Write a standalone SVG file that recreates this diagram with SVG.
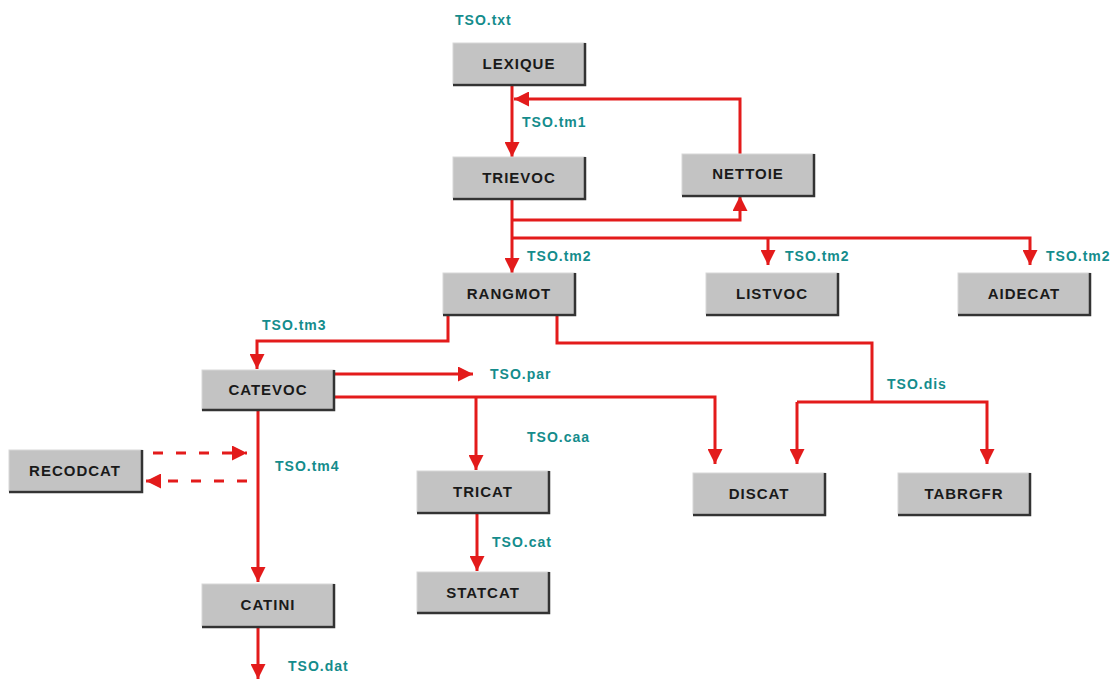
<svg xmlns="http://www.w3.org/2000/svg" width="1118" height="679" viewBox="0 0 1118 679">
<style>
.box{fill:#c3c3c3;stroke:#d8d8d8;stroke-width:1}
.sh{fill:none;stroke:#333;stroke-width:2.5}
.nt{font-family:"Liberation Sans",Arial,sans-serif;font-weight:bold;font-size:15px;fill:#1a1a1a;text-anchor:middle;letter-spacing:1px}
.lb{font-family:"Liberation Sans",Arial,sans-serif;font-weight:bold;font-size:14px;fill:#148c8c;letter-spacing:1px}
.c{fill:none;stroke:#e31b1b;stroke-width:3}
.d{fill:none;stroke:#e31b1b;stroke-width:3;stroke-dasharray:10,13}
</style>
<defs>
<marker id="a" viewBox="0 0 10 10" refX="10" refY="5" markerWidth="5" markerHeight="5" orient="auto" markerUnits="strokeWidth">
<path d="M0,0 L10,5 L0,10 Z" fill="#e31b1b"/>
</marker>
</defs>
<rect width="1118" height="679" fill="#fff"/>
<g id="connectors">
<path class="c" d="M512,85 V157" marker-end="url(#a)"/>
<path class="c" d="M740,154 V99 H514" marker-end="url(#a)"/>
<path class="c" d="M512,199 V273" marker-end="url(#a)"/>
<path class="c" d="M512,220 H740 V196" marker-end="url(#a)"/>
<path class="c" d="M512,238 H1030 V265" marker-end="url(#a)"/>
<path class="c" d="M768,238 V265" marker-end="url(#a)"/>
<path class="c" d="M448,315 V341 H257 V369" marker-end="url(#a)"/>
<path class="c" d="M557,315 V343 H872 V402"/>
<path class="c" d="M797,402 H987 V464" marker-end="url(#a)"/>
<path class="c" d="M797,402 V464" marker-end="url(#a)"/>
<path class="c" d="M335,374 H473" marker-end="url(#a)"/>
<path class="c" d="M335,397 H715 V464" marker-end="url(#a)"/>
<path class="c" d="M476,397 V470" marker-end="url(#a)"/>
<path class="c" d="M477,513 V571" marker-end="url(#a)"/>
<path class="c" d="M258,410 V582" marker-end="url(#a)"/>
<path class="c" d="M258,627 V679" marker-end="url(#a)"/>
<path class="d" d="M153,453 H247" marker-end="url(#a)"/>
<path class="d" d="M247,481 H146" marker-end="url(#a)"/>
</g>
<g id="LEXIQUE"><rect class="box" x="453" y="43" width="132" height="41"/><path class="sh" d="M585,43 V85 H453"/><text class="nt" x="519" y="69">LEXIQUE</text></g>
<g id="TRIEVOC"><rect class="box" x="453" y="157" width="132" height="41"/><path class="sh" d="M585,157 V199 H453"/><text class="nt" x="519" y="183">TRIEVOC</text></g>
<g id="NETTOIE"><rect class="box" x="682" y="154" width="132" height="41"/><path class="sh" d="M814,154 V196 H682"/><text class="nt" x="748" y="179">NETTOIE</text></g>
<g id="RANGMOT"><rect class="box" x="443" y="273" width="132" height="41"/><path class="sh" d="M575,273 V315 H443"/><text class="nt" x="509" y="299">RANGMOT</text></g>
<g id="LISTVOC"><rect class="box" x="706" y="273" width="132" height="41"/><path class="sh" d="M838,273 V315 H706"/><text class="nt" x="772" y="299">LISTVOC</text></g>
<g id="AIDECAT"><rect class="box" x="958" y="273" width="132" height="41"/><path class="sh" d="M1090,273 V315 H958"/><text class="nt" x="1024" y="299">AIDECAT</text></g>
<g id="CATEVOC"><rect class="box" x="202" y="370" width="132" height="40"/><path class="sh" d="M334,370 V410 H202"/><text class="nt" x="268" y="395">CATEVOC</text></g>
<g id="RECODCAT"><rect class="box" x="9" y="450" width="133" height="41"/><path class="sh" d="M142,450 V492 H9"/><text class="nt" x="75" y="476">RECODCAT</text></g>
<g id="TRICAT"><rect class="box" x="417" y="471" width="132" height="41"/><path class="sh" d="M549,471 V513 H417"/><text class="nt" x="483" y="497">TRICAT</text></g>
<g id="STATCAT"><rect class="box" x="417" y="572" width="132" height="41"/><path class="sh" d="M549,572 V613 H417"/><text class="nt" x="483" y="598">STATCAT</text></g>
<g id="DISCAT"><rect class="box" x="693" y="473" width="132" height="41"/><path class="sh" d="M825,473 V515 H693"/><text class="nt" x="759" y="499">DISCAT</text></g>
<g id="TABRGFR"><rect class="box" x="898" y="473" width="132" height="41"/><path class="sh" d="M1030,473 V515 H898"/><text class="nt" x="964" y="499">TABRGFR</text></g>
<g id="CATINI"><rect class="box" x="202" y="584" width="132" height="42"/><path class="sh" d="M334,584 V627 H202"/><text class="nt" x="268" y="610">CATINI</text></g>
<g id="labels">
<text class="lb" x="455" y="25">TSO.txt</text>
<text class="lb" x="522" y="127">TSO.tm1</text>
<text class="lb" x="527" y="261">TSO.tm2</text>
<text class="lb" x="785" y="261">TSO.tm2</text>
<text class="lb" x="1046" y="261">TSO.tm2</text>
<text class="lb" x="262" y="330">TSO.tm3</text>
<text class="lb" x="490" y="379">TSO.par</text>
<text class="lb" x="887" y="389">TSO.dis</text>
<text class="lb" x="527" y="442">TSO.caa</text>
<text class="lb" x="275" y="471">TSO.tm4</text>
<text class="lb" x="492" y="547">TSO.cat</text>
<text class="lb" x="288" y="671">TSO.dat</text>
</g>
</svg>
